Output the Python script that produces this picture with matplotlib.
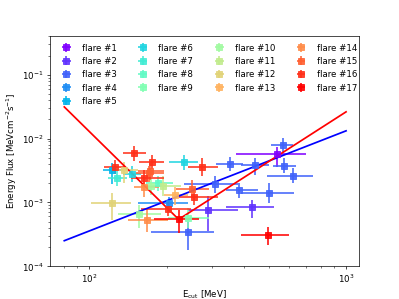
"""Energy flux vs cutoff energy for the 17 flares, with the two fitted trends."""

import matplotlib
matplotlib.use("Agg")
import matplotlib.pyplot as plt
import numpy as np

# one entry per time bin: flare number, E_cut with its range, flux with its range
flare_id = [16, 16, 6, 16, 3, 16, 5, 12, 6, 15,
            15, 16, 14, 8, 10, 11, 13, 15, 16, 4,
            3, 2, 16, 17, 10, 14, 9, 3, 12, 3,
            1, 3, 3, 3, 3, 3, 2, 17, 7]
e_cut = [149.7, 175.0, 234.5, 274.8, 354.2, 126.3, 122.3, 136.9, 146.3, 171.3,
         173.0, 162.9, 163.8, 184.7, 174.0, 193.2, 215.8, 250.5, 256.4, 203.9,
         309.7, 290.8, 202.0, 224.2, 156.6, 167.8, 241.7, 241.7, 122.3, 566.8,
         537.0, 443.3, 575.0, 620.0, 383.9, 502.6, 429.3, 495.5, 128.0]
e_lo = [135.7, 156.6, 203.9, 241.7, 311.6, 114.4, 113.1, 121.5, 134.9, 152.0,
        154.8, 145.4, 149.7, 166.3, 159.0, 168.9, 196.0, 217.7, 224.2, 154.3,
        234.5, 241.7, 159.0, 179.1, 129.0, 141.1, 202.0, 174.0, 101.5, 510.4,
        372.8, 389.9, 518.2, 491.1, 340.8, 389.9, 340.8, 389.9, 118.0]
e_hi = [166.3, 195.0, 264.4, 316.4, 396.9, 139.0, 135.3, 154.8, 159.0, 196.0,
        195.4, 195.4, 187.4, 211.3, 199.0, 227.6, 241.7, 293.4, 316.4, 241.7,
        378.5, 378.5, 248.9, 268.2, 190.3, 202.0, 293.4, 306.9, 145.4, 620.0,
        698.6, 502.6, 638.6, 745.9, 452.9, 629.0, 525.6, 598.2, 140.0]
flux = [5.84e-3, 4.32e-3, 4.23e-3, 3.61e-3, 3.98e-3, 3.61e-3, 3.20e-3, 3.20e-3, 2.77e-3, 2.84e-3,
        3.12e-3, 2.37e-3, 1.72e-3, 1.98e-3, 1.80e-3, 1.82e-3, 1.30e-3, 1.61e-3, 1.20e-3, 0.965e-3,
        1.95e-3, 0.750e-3, 0.777e-3, 0.542e-3, 0.656e-3, 0.528e-3, 0.562e-3, 0.339e-3, 0.986e-3, 7.88e-3,
        5.64e-3, 3.84e-3, 3.74e-3, 2.61e-3, 1.56e-3, 1.38e-3, 0.835e-3, 0.308e-3, 2.40e-3]
flux_lo = [4.48e-3, 3.32e-3, 3.20e-3, 2.58e-3, 3.09e-3, 2.77e-3, 1.93e-3, 1.98e-3, 2.08e-3, 2.08e-3,
           2.23e-3, 1.80e-3, 1.21e-3, 1.50e-3, 1.30e-3, 1.25e-3, 0.908e-3, 1.17e-3, 0.908e-3, 0.713e-3,
           1.40e-3, 0.355e-3, 0.610e-3, 0.327e-3, 0.396e-3, 0.347e-3, 0.392e-3, 0.179e-3, 0.528e-3, 6.13e-3,
           3.61e-3, 2.67e-3, 2.87e-3, 1.98e-3, 1.155e-3, 0.965e-3, 0.562e-3, 0.215e-3, 1.80e-3]
flux_hi = [7.60e-3, 5.50e-3, 5.50e-3, 4.93e-3, 5.12e-3, 4.59e-3, 4.12e-3, 4.32e-3, 3.70e-3, 3.70e-3,
           4.12e-3, 3.20e-3, 2.40e-3, 2.58e-3, 2.40e-3, 2.58e-3, 1.75e-3, 2.23e-3, 1.56e-3, 1.22e-3,
           2.58e-3, 1.25e-3, 1.01e-3, 0.758e-3, 0.908e-3, 0.806e-3, 0.806e-3, 0.497e-3, 1.40e-3, 1.014e-2,
           7.41e-3, 4.93e-3, 4.93e-3, 3.45e-3, 1.98e-3, 1.98e-3, 1.086e-3, 0.415e-3, 3.10e-3]

# fitted trends
blue_x = [80, 1000]
blue_y = [2.5e-4, 1.32e-2]
red_x = [80, 223, 1000]
red_y = [3.13e-2, 5.4e-4, 2.62e-2]

N_FLARES = 17

ids = np.array(flare_id)
x = np.array(e_cut)
y = np.array(flux)
xerr = np.array([x - np.array(e_lo), np.array(e_hi) - x])
yerr = np.array([y - np.array(flux_lo), np.array(flux_hi) - y])

colors = plt.cm.rainbow(np.linspace(0, 1, N_FLARES))

fig, ax = plt.subplots(figsize=(6.4, 4.8))
for i in range(N_FLARES):
    sel = ids == i + 1
    ax.errorbar(x[sel], y[sel], xerr=xerr[:, sel], yerr=yerr[:, sel],
                fmt="s", color=colors[i], ms=7, elinewidth=2, alpha=0.9,
                label=f"flare #{i + 1}")

ax.plot(blue_x, blue_y, color="blue", lw=2)
ax.plot(red_x, red_y, color="red", lw=2)

ax.set_xscale("log")
ax.set_yscale("log")
ax.set_xlim(70.3, 1124)
ax.set_ylim(1e-4, 0.41)
ax.set_xlabel(r"E$_{\rm cut}$ [MeV]")
ax.set_ylabel(r"Energy Flux [MeVcm$^{-2}$s$^{-1}$]")
ax.legend(ncol=4, loc="upper left", frameon=False)

fig.savefig("out.png", dpi=399 / 6.4)
